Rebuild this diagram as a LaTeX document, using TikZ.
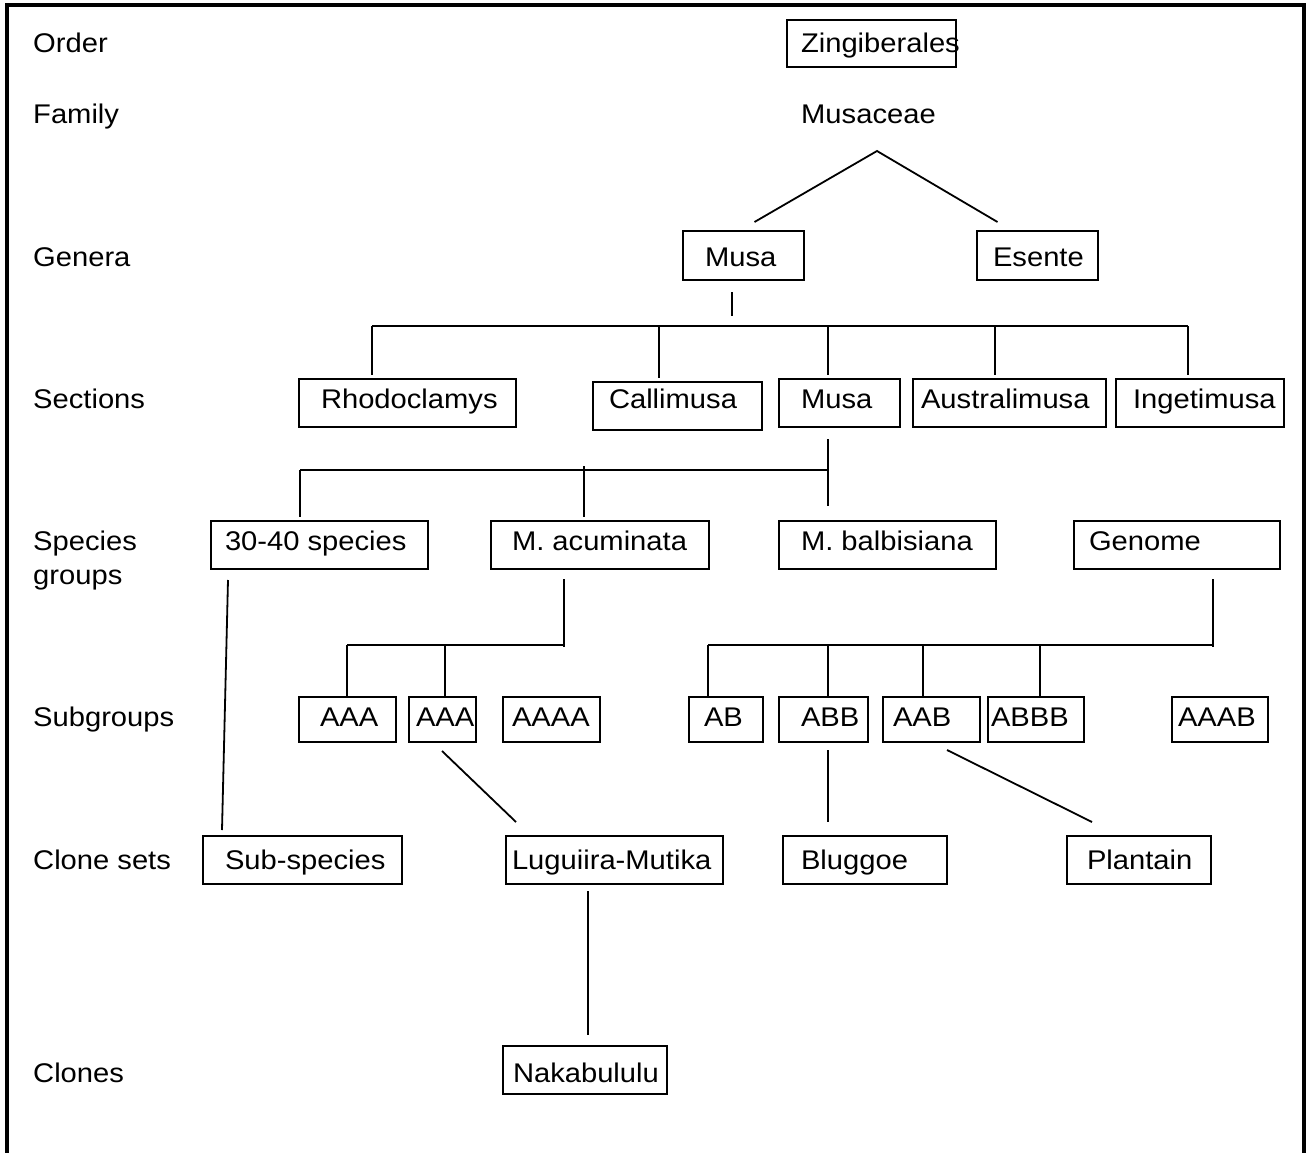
\documentclass[tikz,border=0pt]{standalone}
\usepackage{fontspec}
\setmainfont{Liberation Sans}[FakeStretch=1.08]
\usetikzlibrary{calc}
% #1 name, #2 x, #3 y (top-left), #4 width, #5 ascent, #6 descent, #7 left pad, #8 text
\newcommand\tbox[8]{\node[bx, text height=#5pt, text depth=#6pt] (#1) at (#2,#3) {\makebox[#4pt][l]{\hspace*{#7pt}#8}};}
\begin{document}
\begin{tikzpicture}[x=1pt,y=-1pt,
  bx/.style={draw, line width=2pt, anchor=north west, inner sep=0pt, outer sep=0pt, font=\fontsize{27}{32}\selectfont},
  lbl/.style={anchor=base west, inner sep=0pt, font=\fontsize{27}{32}\selectfont},
  conn/.style={line width=1.8pt},
  frame/.style={line width=4pt}]
\useasboundingbox (0,0) rectangle (1312,1153);
\fill[white] (0,0) rectangle (1312,1153);
\draw[frame] (7,1160) -- (7,5) -- (1304,5) -- (1304,1160);

% row labels
\node[lbl] (lOrder) at (33,53) {Order};
\node[lbl] (lFamily) at (33,124) {Family};
\node[lbl] (lGenera) at (33,266) {Genera};
\node[lbl] (lSections) at (33,408) {Sections};
\node[lbl] (lSpecies) at (33,550) {Species};
\node[lbl] (lGroups) at (33,584) {groups};
\node[lbl] (lSubgroups) at (33,726) {Subgroups};
\node[lbl] (lClonesets) at (33,869) {Clone sets};
\node[lbl] (lClones) at (33,1082) {Clones};

% boxes
\tbox{zing}{787}{20}{169}{33}{14}{14}{Zingiberales}
\node[lbl] (musaceae) at (801,124) {Musaceae};
\tbox{musaG}{683}{231}{121}{35}{14}{22}{Musa}
\tbox{esente}{977}{231}{121}{35}{14}{16}{Esente}

\tbox{rhodo}{299}{379}{217}{29}{19}{22}{Rhodoclamys}
\tbox{calli}{593}{382}{169}{26}{22}{16}{Callimusa}
\tbox{musaS}{779}{379}{121}{29}{19}{22}{Musa}
\tbox{austr}{913}{379}{193}{29}{19}{8}{Australimusa}
\tbox{inget}{1116}{379}{168}{29}{19}{17}{Ingetimusa}

\tbox{sp3040}{211}{521}{217}{29}{19}{14}{30-40 species}
\tbox{acum}{491}{521}{218}{29}{19}{21}{M. acuminata}
\tbox{balb}{779}{521}{217}{29}{19}{22}{M. balbisiana}
\tbox{genome}{1074}{521}{206}{29}{19}{15}{Genome}

\tbox{aaaA}{299}{697}{97}{29}{16}{21}{AAA}
\tbox{aaaB}{409}{697}{67}{29}{16}{7}{AAA}
\tbox{aaaa}{503}{697}{97}{29}{16}{9}{AAAA}
\tbox{ab}{689}{697}{74}{29}{16}{15}{AB}
\tbox{abb}{779}{697}{89}{29}{16}{22}{ABB}
\tbox{aab}{883}{697}{97}{29}{16}{10}{AAB}
\tbox{abbb}{988}{697}{96}{29}{16}{3}{ABBB}
\tbox{aaab}{1172}{697}{96}{29}{16}{6}{AAAB}

\tbox{subsp}{203}{836}{199}{33}{15}{22}{Sub-species}
\tbox{lugu}{506}{836}{217}{33}{15}{6}{Luguiira-Mutika}
\tbox{blug}{783}{836}{164}{33}{15}{18}{Bluggoe}
\tbox{plan}{1067}{836}{144}{33}{15}{20}{Plantain}
\tbox{naka}{503}{1046}{164}{36}{12}{10}{Nakabululu}

% connectors
\coordinate (apex) at (877,151);
\draw[conn] ($(musaG.north)+(11,-9)$) -- (apex) -- ($(esente.north)+(-40,-9)$);
\draw[conn] ($(musaG.south)+(-11.5,12)$) -- ++(0,24);

\coordinate (sbL) at (372,326);
\coordinate (sbR) at (1188,326);
\draw[conn] (sbL) -- (sbR);
\foreach \n/\x in {rhodo/372,calli/659,musaS/828,austr/995,inget/1188}{
  \coordinate (t) at (\x,326);
  \draw[conn] (t) -- ($(t |- \n.north)+(0,-4)$);
}

\draw[conn] ($(musaS.south)+(-11.5,12)$) -- ++(0,67);
\coordinate (spL) at (300,470);
\coordinate (spR) at (828,470);
\coordinate (spM) at (584,466);
\draw[conn] (spL) -- (spR);
\draw[conn] (spL) -- ($(spL |- sp3040.north)+(0,-4)$);
\draw[conn] (spM) -- ($(spM |- acum.north)+(0,-4)$);

\draw[conn] ($(acum.south)+(-36,10)$) -- ++(0,68);
\coordinate (saL) at (347,645);
\coordinate (saR) at (564,645);
\coordinate (saM) at (445,645);
\draw[conn] (saL) -- (saR);
\draw[conn] (saL) -- (saL |- aaaA.north);
\draw[conn] (saM) -- (saM |- aaaB.north);

\draw[conn] ($(genome.south)+(36,10)$) -- ++(0,68);
\coordinate (gbL) at (708,645);
\coordinate (gbR) at (1213,645);
\draw[conn] (gbL) -- (gbR);
\foreach \n/\x in {ab/708,abb/828,aab/923,abbb/1040}{
  \coordinate (t) at (\x,645);
  \draw[conn] (t) -- (t |- \n.north);
}

\draw[conn] ($(sp3040.south west)+(17,11)$) -- ($(subsp.north west)+(19,-6)$);
\draw[conn] ($(aaaB.south)+(-0.5,9)$) -- ($(lugu.north west)+(10,-14)$);
\draw[conn] ($(abb.south)+(4.5,8)$) -- ($(blug.north)+(-37,-14)$);
\draw[conn] ($(aab.south)+(15.5,8)$) -- ($(plan.north)+(-47,-14)$);
\draw[conn] ($(lugu.south)+(-26.5,7)$) -- ($(naka.north)+(3,-11)$);
\end{tikzpicture}
\end{document}
